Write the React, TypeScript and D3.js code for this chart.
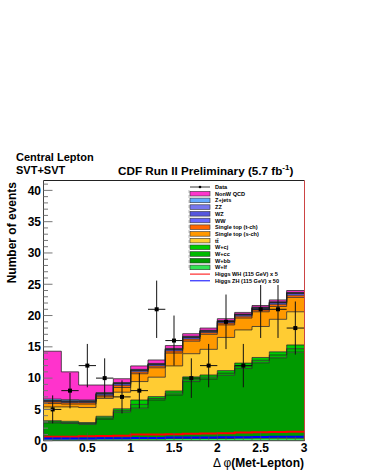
import React from "react";
import * as d3 from "d3";

const binEdges = [0, 0.2, 0.4, 0.6, 0.8, 1.0, 1.2, 1.4, 1.6, 1.8, 2.0, 2.2, 2.4, 2.6, 2.8, 3.0];
const dataCounts = [5, 8, 12, 10, 7, 8, 21, 16, 10, 12, 19, 12, 21, 21, 18];

const wlf = [0.3, 0.3, 0.3, 0.3, 0.3, 0.3, 0.3, 0.35, 0.35, 0.35, 0.35, 0.4, 0.4, 0.4, 0.4];
const wbb = [2.55, 2.45, 2.3, 3.15, 4.25, 4.9, 6.2, 6.95, 9.1, 9.5, 10.1, 11.15, 12.05, 12.85, 13.75];
const wcc = [0.15, 0.15, 0.15, 0.2, 0.25, 0.6, 0.25, 0.3, 0.3, 0.3, 0.35, 0.4, 0.4, 0.45, 0.55];
const wcj = [0.2, 0.2, 0.15, 0.25, 0.3, 0.7, 0.3, 0.35, 0.45, 0.35, 0.4, 0.45, 0.45, 0.5, 0.6];
const ttbar = [2.2, 2.3, 2.4, 2.85, 2.65, 2.95, 3.1, 4.0, 3.7, 4.1, 5.3, 5.3, 4.95, 5.2, 5.3];
const stopS = [0.55, 0.45, 0.55, 0.25, 0.75, 1.25, 1.5, 2.05, 2.0, 2.4, 2.0, 1.9, 2.35, 2.05, 2.3];
const stopT = [0.25, 0.25, 0.25, 0.25, 0.35, 0.3, 0.3, 0.35, 0.35, 0.3, 0.3, 0.3, 0.3, 0.35, 0.35];
const ww = [0.12, 0.15, 0.15, 0.2, 0.23, 0.2, 0.2, 0.2, 0.25, 0.17, 0.22, 0.18, 0.25, 0.22, 0.26];
const wz = [0.06, 0.07, 0.07, 0.07, 0.07, 0.07, 0.07, 0.07, 0.07, 0.07, 0.07, 0.07, 0.08, 0.07, 0.08];
const zz = [0.02, 0.02, 0.02, 0.02, 0.02, 0.02, 0.02, 0.02, 0.02, 0.02, 0.02, 0.02, 0.02, 0.02, 0.02];
const zjets = [0.25, 0.21, 0.16, 0.16, 0.13, 0.11, 0.11, 0.11, 0.11, 0.09, 0.09, 0.08, 0.1, 0.09, 0.09];
const qcd = [7.65, 4.45, 2.4, 1.2, 0.6, 0.55, 0.55, 0.45, 0.4, 0.35, 0.3, 0.25, 0.25, 0.3, 0.3];

const higgsWH = [0.65, 0.65, 0.7, 0.75, 0.8, 1.0, 1.0, 1.05, 1.1, 1.15, 1.2, 1.3, 1.35, 1.4, 1.45];
const higgsZH = [0.35, 0.35, 0.35, 0.4, 0.4, 0.45, 0.45, 0.5, 0.5, 0.5, 0.55, 0.55, 0.6, 0.65, 0.65];

const yTicks = [0, 5, 10, 15, 20, 25, 30, 35, 40];
const xTicks = [0, 0.5, 1, 1.5, 2, 2.5, 3];
const xTickLabels = ["0", "0.5", "1", "1.5", "2", "2.5", "3"];

const layers = [
  { key: "wlf", label: "W+lf", values: wlf, color: "#33e455" },
  { key: "wbb", label: "W+bb", values: wbb, color: "#009a00" },
  { key: "wcc", label: "W+cc", values: wcc, color: "#00b800" },
  { key: "wcj", label: "W+cj", values: wcj, color: "#00cc00" },
  { key: "tt", label: "tt\u0304", values: ttbar, color: "#ffcc33" },
  { key: "stopS", label: "Single top (s-ch)", values: stopS, color: "#ff9900" },
  { key: "stopT", label: "Single top (t-ch)", values: stopT, color: "#ff6600" },
  { key: "ww", label: "WW", values: ww, color: "#6666ff" },
  { key: "wz", label: "WZ", values: wz, color: "#5555dd" },
  { key: "zz", label: "ZZ", values: zz, color: "#7777ee" },
  { key: "zjets", label: "Z+jets", values: zjets, color: "#66aaff" },
  { key: "qcd", label: "NonW QCD", values: qcd, color: "#ff33cc" },
];

const W = 365;
const H = 473;
const FONT = "'Liberation Sans', Arial, Helvetica, sans-serif";

export default function App() {
  const x = d3.scaleLinear().domain([0, 3]).range([44, 304]);
  const y = d3.scaleLinear().domain([0, 41.5]).range([440.7, 181]);

  const rows = dataCounts.map((_, i) => {
    const r: Record<string, number> = {};
    layers.forEach((l) => (r[l.key] = l.values[i]));
    return r;
  });
  const stack = d3.stack<Record<string, number>>().keys(layers.map((l) => l.key));
  const series = stack(rows);

  const area = d3
    .area<[number, number, number]>()
    .x((d) => x(d[0]))
    .y0((d) => y(d[1]))
    .y1((d) => y(d[2]))
    .curve(d3.curveStepAfter);
  const line = d3
    .line<[number, number]>()
    .x((d) => x(d[0]))
    .y((d) => y(d[1]))
    .curve(d3.curveStepAfter);

  const pts = (s: d3.Series<Record<string, number>, string>) => {
    const p: [number, number, number][] = s.map((d, i) => [binEdges[i], d[0], d[1]]);
    const last = s[s.length - 1];
    p.push([binEdges[binEdges.length - 1], last[0], last[1]]);
    return p;
  };
  const histPts = (vals: number[]) => {
    const p: [number, number][] = vals.map((v, i) => [binEdges[i], v]);
    p.push([binEdges[binEdges.length - 1], vals[vals.length - 1]]);
    return p;
  };

  const yMinor = d3.range(0, 42, 1);
  const xMinor = d3.range(0, 3.01, 0.1);

  const legendEntries = [
    { type: "data", label: "Data" },
    ...layers
      .slice()
      .reverse()
      .map((l) => ({ type: "box", label: l.label, color: l.color })),
    { type: "line", label: "Higgs WH (115 GeV) x 5", color: "#ff0000" },
    { type: "line", label: "Higgs ZH (115 GeV) x 50", color: "#0000ff" },
  ];

  return (
    <svg width={W} height={H} style={{ position: "absolute", left: 0, top: 0, background: "#fff" }}>
      {/* stack */}
      {series.map((s, i) => (
        <path key={"a" + i} d={area(pts(s)) || ""} fill={layers[i].color} stroke="none" />
      ))}
      {series.map((s, i) => (
        <path
          key={"o" + i}
          d={line(pts(s).map((p) => [p[0], p[2]] as [number, number])) || ""}
          fill="none"
          stroke="#222"
          strokeOpacity={0.75}
          strokeWidth={1}
        />
      ))}
      {/* Higgs */}
      <path d={line(histPts(higgsWH)) || ""} fill="none" stroke="#ff0000" strokeWidth={2} />
      <path d={line(histPts(higgsZH)) || ""} fill="none" stroke="#0000ff" strokeWidth={2} />

      {/* data */}
      {dataCounts.map((n, i) => {
        const cx = x((binEdges[i] + binEdges[i + 1]) / 2);
        const e = Math.sqrt(n);
        return (
          <g key={"d" + i} stroke="#111" strokeWidth={1}>
            <line x1={cx} x2={cx} y1={y(n + e)} y2={y(Math.max(0, n - e))} />
            <line x1={x(binEdges[i])} x2={x(binEdges[i + 1])} y1={y(n)} y2={y(n)} />
            <rect x={cx - 2} y={y(n) - 2} width={4} height={4} fill="#000" stroke="none" />
          </g>
        );
      })}

      {/* legend */}
      <rect x={189} y={183} width={115} height={102} fill="#fff" />
      <line x1={189} x2={189} y1={190} y2={270} stroke="#bbb" strokeDasharray="3,2" />
      {legendEntries.map((e, i) => {
        const cy = 187 + i * 6.7;
        return (
          <g key={"l" + i}>
            {e.type === "data" && (
              <g>
                <line x1={190} x2={210} y1={cy} y2={cy} stroke="#000" strokeWidth={0.8} />
                <circle cx={200} cy={cy} r={1.3} fill="#000" />
              </g>
            )}
            {e.type === "box" && (
              <rect x={190} y={cy - 2.3} width={20} height={4.6} fill={e.color} stroke="#333" strokeWidth={0.6} />
            )}
            {e.type === "line" && <line x1={190} x2={210} y1={cy} y2={cy} stroke={e.color} strokeWidth={1} />}
            <text x={215} y={cy + 2} fontFamily={FONT} fontWeight="bold" fontSize={5.6} fill="#000">
              {e.label}
            </text>
          </g>
        );
      })}

      {/* frame */}
      <line x1={43.5} x2={304.5} y1={180.5} y2={180.5} stroke="#222" strokeWidth={1} />
      <line x1={304.5} x2={304.5} y1={180.5} y2={441} stroke="#cc4444" strokeWidth={1} />
      <line x1={43.5} x2={43.5} y1={180.5} y2={441} stroke="#444" strokeWidth={1} />
      <line x1={43.5} x2={304.5} y1={440.7} y2={440.7} stroke="#444" strokeWidth={1} />

      {/* y ticks */}
      {yMinor.map((v) => (
        <line
          key={"ym" + v}
          x1={43.5}
          x2={43.5 + (v % 5 === 0 ? 9 : 4.5)}
          y1={y(v)}
          y2={y(v)}
          stroke="#777"
          strokeWidth={1}
        />
      ))}
      {yTicks.map((v) => (
        <text
          key={"yl" + v}
          x={41}
          y={y(v) + 4.3}
          textAnchor="end"
          fontFamily={FONT}
          fontWeight="bold"
          fontSize={12}
          fill="#000"
        >
          {v}
        </text>
      ))}
      {/* x ticks */}
      {xMinor.map((v, i) => (
        <line
          key={"xm" + i}
          x1={x(v)}
          x2={x(v)}
          y1={440.7}
          y2={440.7 - (i % 5 === 0 ? 8 : 4)}
          stroke="#555"
          strokeOpacity={0.6}
          strokeWidth={1}
        />
      ))}
      {xTicks.map((v, i) => (
        <text
          key={"xl" + i}
          x={x(v)}
          y={451.5}
          textAnchor="middle"
          fontFamily={FONT}
          fontWeight="bold"
          fontSize={12}
          fill="#000"
        >
          {xTickLabels[i]}
        </text>
      ))}

      {/* axis titles */}
      <text x={304} y={467} textAnchor="end" fontFamily={FONT} fontWeight="bold" fontSize={12} fill="#000">
        <tspan fontWeight="normal">Δ φ</tspan>(Met-Lepton)
      </text>
      <text
        transform="translate(16,182) rotate(-90)"
        textAnchor="end"
        fontFamily={FONT}
        fontWeight="bold"
        fontSize={12}
        fill="#000"
      >
        Number of events
      </text>

      {/* titles */}
      <text x={16} y={161} fontFamily={FONT} fontWeight="bold" fontSize={11} fill="#000">
        Central Lepton
      </text>
      <text x={16} y={174} fontFamily={FONT} fontWeight="bold" fontSize={11} fill="#000">
        SVT+SVT
      </text>
      <text x={118} y={175} fontFamily={FONT} fontWeight="bold" fontSize={11.7} fill="#000">
        CDF Run II Preliminary (5.7 fb
        <tspan dy={-5} fontSize={8}>
          -1
        </tspan>
        <tspan dy={5}>)</tspan>
      </text>
    </svg>
  );
}
